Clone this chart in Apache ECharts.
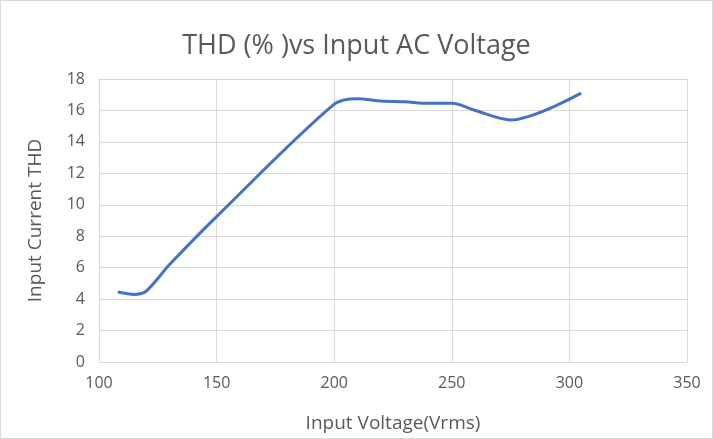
<!DOCTYPE html>
<html>
<head>
<meta charset="utf-8">
<script src="https://cdn.jsdelivr.net/npm/echarts@6/dist/echarts.min.js"></script>
<style>
html,body{margin:0;padding:0;background:#fff;}
#chart{width:713px;height:439px;box-sizing:border-box;border:1px solid #d9d9d9;}
</style>
</head>
<body>
<div id="chart"></div>
<script>
var voltage = [108, 115, 120, 130, 150, 200, 210, 220, 230, 240, 250, 260, 275, 305];
var thd = [4.45, 4.3, 4.5, 6.2, 9.25, 16.4, 16.75, 16.6, 16.55, 16.45, 16.45, 16.0, 15.4, 17.1];

var seriesData = [];
for (var i = 0; i < voltage.length; i++) {
    seriesData.push([voltage[i], thd[i]]);
}

var chart = echarts.init(document.getElementById("chart"));
var font = "'Open Sans', 'Liberation Sans', sans-serif";
var gridColor = "#d9d9d9";

var option = {
    animation: false,
    title: {
        text: "THD (% )vs Input AC Voltage",
        left: "center",
        top: 27,
        textStyle: {
            color: "#595959",
            fontFamily: font,
            fontSize: 27,
            fontWeight: "normal"
        }
    },
    grid: {
        left: 98,
        right: 25,
        top: 78,
        bottom: 75
    },
    xAxis: {
        type: "value",
        min: 100,
        max: 350,
        interval: 50,
        name: "Input Voltage(Vrms)",
        nameLocation: "middle",
        nameGap: 52,
        nameTextStyle: { color: "#595959", fontFamily: font, fontSize: 19 },
        axisLine: { show: true, lineStyle: { color: gridColor } },
        axisTick: { show: false },
        axisLabel: { color: "#595959", fontFamily: font, fontSize: 16, margin: 13 },
        splitLine: { show: true, lineStyle: { color: gridColor, width: 1 } }
    },
    yAxis: {
        type: "value",
        min: 0,
        max: 18,
        interval: 2,
        name: "Input Current THD",
        nameLocation: "middle",
        nameGap: 54,
        nameTextStyle: { color: "#595959", fontFamily: font, fontSize: 19 },
        axisLine: { show: true, lineStyle: { color: gridColor } },
        axisTick: { show: false },
        axisLabel: { color: "#595959", fontFamily: font, fontSize: 16, margin: 14 },
        splitLine: { show: true, lineStyle: { color: gridColor, width: 1 } }
    },
    series: [{
        type: "line",
        data: seriesData,
        smooth: 0.3,
        symbol: "none",
        lineStyle: { color: "#4472C4", width: 3 }
    }]
};

chart.setOption(option);
</script>
</body>
</html>
